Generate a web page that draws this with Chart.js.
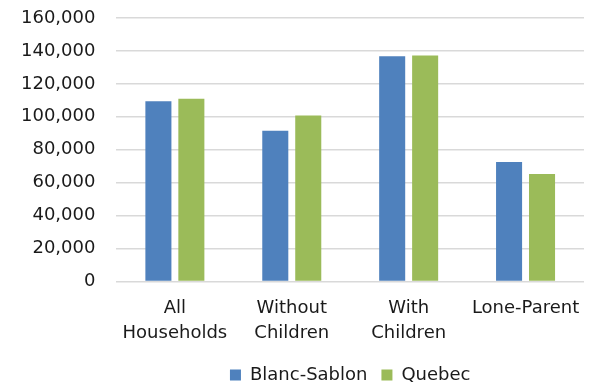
<!DOCTYPE html>
<html>
<head>
<meta charset="utf-8">
<script src="https://cdn.jsdelivr.net/npm/chart.js@4/dist/chart.umd.min.js"></script>
<style>
  html, body { margin: 0; padding: 0; background: #fff; }
  #wrap { width: 597px; height: 386px; }
</style>
</head>
<body>
<div id="wrap"><canvas id="chart"></canvas></div>
<script>
// household income by family type
const categories = [['All', 'Households'], ['Without', 'Children'], ['With', 'Children'], 'Lone-Parent'];
const blancSablon = [109500, 91500, 136800, 72500];
const quebec = [111000, 100800, 137200, 65200];
const yTicks = [0, 20000, 40000, 60000, 80000, 100000, 120000, 140000, 160000];

const font = { family: 'DejaVu Sans', size: 18 };
Chart.defaults.color = '#1a1a1a';

new Chart(document.getElementById('chart'), {
    type: 'bar',
    data: {
        labels: categories,
        datasets: [
            { label: 'Blanc-Sablon', data: blancSablon, backgroundColor: '#4f81bd' },
            { label: 'Quebec', data: quebec, backgroundColor: '#9bbb59' }
        ]
    },
    options: {
        responsive: true,
        maintainAspectRatio: false,
        animation: false,
        datasets: { bar: { categoryPercentage: 0.564, barPercentage: 0.79 } },
        layout: { padding: { left: 0, right: 13, top: 18, bottom: -8 } },
        plugins: {
            tooltip: { enabled: false },
            legend: {
                position: 'bottom',
                fullSize: false,
                labels: { font: font, boxWidth: 11, boxHeight: 11, padding: 14 }
            }
        },
        scales: {
            x: {
                grid: { display: false },
                border: { display: false },
                ticks: { font: Object.assign({ lineHeight: 1.35 }, font), padding: 7, maxRotation: 0 }
            },
            y: {
                min: 0,
                max: 160000,
                afterBuildTicks: axis => { axis.ticks = yTicks.map(v => ({ value: v })); },
                // let the top tick label hang above the plot area
                afterFit: axis => { axis.paddingTop = 0; },
                border: { display: false },
                grid: { color: '#d9d9d9', lineWidth: 1.5, drawTicks: false },
                ticks: {
                    font: font,
                    padding: 21,
                    callback: v => v.toLocaleString('en-US')
                }
            }
        }
    }
});
</script>
</body>
</html>
